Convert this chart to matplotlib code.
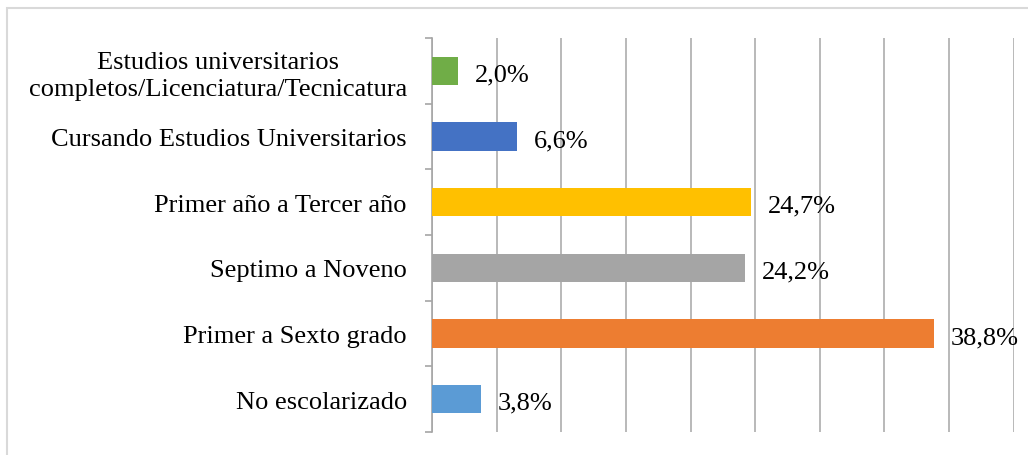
import matplotlib
matplotlib.use('Agg')
import matplotlib.pyplot as plt
from matplotlib.patches import Rectangle

# data (bottom to top)
categorias = ['No escolarizado',
              'Primer a Sexto grado',
              'Septimo a Noveno',
              'Primer año a Tercer año',
              'Cursando Estudios Universitarios',
              'Estudios universitarios\ncompletos/Licenciatura/Tecnicatura']
porcentajes = [3.8, 38.8, 24.2, 24.7, 6.6, 2.0]
colores = ['#5B9BD5', '#ED7D31', '#A5A5A5', '#FFC000', '#4472C4', '#70AD47']

plt.rcParams['font.family'] = ['Liberation Serif', 'DejaVu Serif']

fig = plt.figure(figsize=(10.28, 4.56), dpi=100)
ax = fig.add_axes([0.4202, 0.0504, 0.5659, 0.8641])

# outer frame of the chart
fig.patches.append(Rectangle((7 / 1028, -0.1), 1.2, (456 - 9) / 456 + 0.1,
                             transform=fig.transFigure, fill=False,
                             edgecolor='#D9D9D9', linewidth=1.5, zorder=0))

y = list(range(len(categorias)))
ax.barh(y, porcentajes, height=0.43, color=colores, zorder=3)

for yi, v in zip(y, porcentajes):
    ax.annotate(('%.1f%%' % v).replace('.', ','), (v, yi),
                xytext=(12, -2.5), textcoords='offset points',
                va='center', ha='left', fontsize=19, zorder=4)

ax.set_xlim(0, 45)
ax.set_ylim(-0.5, len(categorias) - 0.5)
ax.set_xticks(range(0, 46, 5))
ax.xaxis.grid(True, color='#B3B3B3', linewidth=1.3, zorder=0)
ax.tick_params(axis='x', bottom=False, labelbottom=False)

ax.set_yticks(y)
ax.set_yticklabels(categorias, fontsize=19, multialignment='center',
                   linespacing=1.3)
ax.set_yticks([i - 0.5 for i in range(len(categorias) + 1)], minor=True)
ax.tick_params(axis='y', which='major', length=0, pad=18)
ax.tick_params(axis='y', which='minor', length=5, color='#A6A6A6', width=1.2)

for s in ['top', 'right', 'bottom']:
    ax.spines[s].set_visible(False)
ax.spines['left'].set_color('#A6A6A6')
ax.spines['left'].set_linewidth(1.2)

fig.savefig('out.png', dpi=100)
